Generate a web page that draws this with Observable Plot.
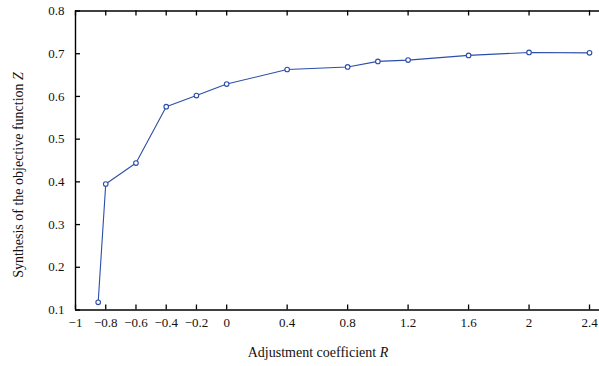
<!DOCTYPE html>
<html><head><meta charset="utf-8">
<script src="https://cdn.jsdelivr.net/npm/d3@7"></script>
<script src="https://cdn.jsdelivr.net/npm/@observablehq/plot@0.6"></script>
<style>body{margin:0;background:#fff} svg{display:block}</style>
</head><body><div id="chart"></div>
<script>
const R = [-0.85, -0.8, -0.6, -0.4, -0.2, 0, 0.4, 0.8, 1.0, 1.2, 1.6, 2.0, 2.4];
const Z = [0.118, 0.395, 0.444, 0.576, 0.602, 0.629, 0.663, 0.669, 0.682, 0.685, 0.696, 0.703, 0.702];
const xTicks = [-1, -0.8, -0.6, -0.4, -0.2, 0, 0.4, 0.8, 1.2, 1.6, 2, 2.4];
const yTicks = [0.1, 0.2, 0.3, 0.4, 0.5, 0.6, 0.7, 0.8];
const xLabel = ["Adjustment coefficient ", "R"];
const yLabel = ["Synthesis of the objective function ", "Z"];

const data = R.map((r, i) => ({r, z: Z[i]}));
const fmt = d => String(d).replace("-", "\u2212");
const font = "'Liberation Serif', 'DejaVu Serif', serif";
const blue = "#2d4ea8";
const ink = "#111";

const W = 599, H = 366, mL = 75, mR = 0, mT = 10.5, mB = 56.5;
const plotW = W - mL - mR, plotH = H - mT - mB, tick = 5;

const plot = Plot.plot({
  width: W, height: H,
  marginLeft: mL, marginRight: mR, marginTop: mT, marginBottom: mB,
  style: {fontFamily: font, fontSize: "13px", background: "white", color: ink},
  x: {domain: [-1, 2.466]},
  y: {domain: [0.1, 0.8]},
  marks: [
    // tick labels
    Plot.axisX(xTicks, {anchor: "bottom", tickSize: 0, tickPadding: 8, tickFormat: fmt, label: null, fill: ink, fontSize: 13}),
    Plot.axisY(yTicks, {anchor: "left", tickSize: 0, tickPadding: 11, tickFormat: d => d.toFixed(1), label: null, fill: ink, fontSize: 13}),
    // inward ticks (bottom, top, left)
    Plot.ruleX(xTicks, {x: d => d, insetTop: plotH - tick, stroke: "black", strokeWidth: 1.3}),
    Plot.ruleX(xTicks, {x: d => d, insetBottom: plotH - tick, stroke: "black", strokeWidth: 1.3}),
    Plot.ruleY(yTicks, {y: d => d, insetRight: plotW - tick, stroke: "black", strokeWidth: 1.3}),
    // frame lines
    Plot.ruleY([0.1, 0.8], {stroke: "black", strokeWidth: 1.4}),
    Plot.ruleX([-1], {stroke: "black", strokeWidth: 1.4}),
    // data
    Plot.line(data, {x: "r", y: "z", stroke: blue, strokeWidth: 1.1}),
    Plot.dot(data, {x: "r", y: "z", r: 2.3, stroke: blue, strokeWidth: 1.1, fill: "white"})
  ]
});

const svg = d3.select(plot);
const xt = svg.append("text")
  .attr("x", 318).attr("y", 357)
  .attr("text-anchor", "middle")
  .attr("font-family", font).attr("font-size", 14).attr("fill", ink);
xt.append("tspan").text(xLabel[0]);
xt.append("tspan").attr("font-style", "italic").text(xLabel[1]);

const yt = svg.append("text")
  .attr("transform", "translate(23,175) rotate(-90)")
  .attr("text-anchor", "middle")
  .attr("font-family", font).attr("font-size", 14).attr("fill", ink);
yt.append("tspan").text(yLabel[0]);
yt.append("tspan").attr("font-style", "italic").text(yLabel[1]);

document.getElementById("chart").appendChild(plot);
</script>
</body></html>
